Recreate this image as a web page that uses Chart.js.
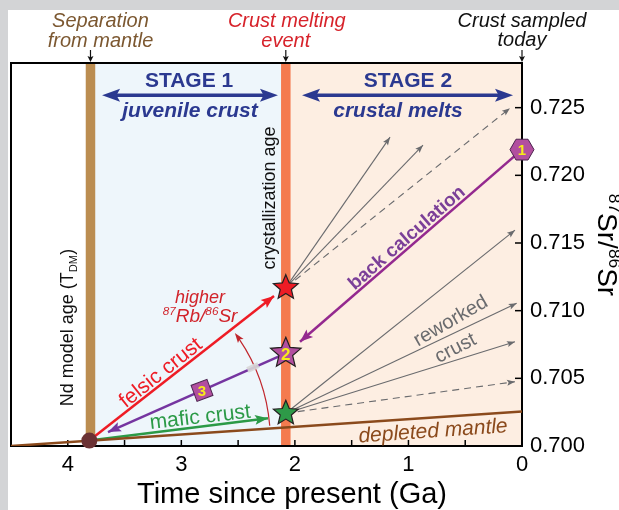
<!DOCTYPE html>
<html>
<head>
<meta charset="utf-8">
<script src="https://cdn.jsdelivr.net/npm/chart.js@4.4.0/dist/chart.umd.min.js"></script>
<style>
  html, body { margin: 0; padding: 0; background: #fff; }
  canvas { display: block; }
</style>
</head>
<body>
<canvas id="srChart" width="619" height="510"></canvas>
<script>
// axis ticks
var timeTicks = [0, 1, 2, 3, 4];
var timeMinorTicks = [0.5, 1, 1.5, 2, 2.5, 3, 3.5, 4];
var srTicks = [0.700, 0.705, 0.710, 0.715, 0.720, 0.725];

// events (Ga)
var mantleAge = 3.80;   // separation from mantle, Nd model age
var meltAge = 2.08;     // crust melting event

// evolution lines [Ga, 87Sr/86Sr]
var depletedMantle = [[4.5, 0.7000], [0, 0.70255]];
var felsicCrust = [[3.81, 0.7004], [2.184, 0.71108]];
var maficCrust = [[3.81, 0.7004], [2.237, 0.70205]];
var juvenileBack = [[2.08, 0.70685], [3.646, 0.70103]];
var backCalc = [[0, 0.7219], [1.955, 0.7077]];

// markers
var startDot = [3.81, 0.7004];
var felsicStar = [2.08, 0.7117];
var mixStar = [2.08, 0.70685];
var maficStar = [2.08, 0.70242];
var todaySample = [0, 0.7219];
var boxThree = [2.818, 0.70411];
var lineBreak = [2.369, 0.70580];

// reworked crust fans
var felsicFan = [[1.162, 0.72282], [0.872, 0.72223]];
var felsicFanDashed = [0.106, 0.72496];
var maficFan = [[0.062, 0.71595], [0.047, 0.71054], [0.062, 0.7077]];
var maficFanDashed = [0.062, 0.70475];

var FONT = "'Liberation Sans', Arial, Helvetica, sans-serif";
var GRAY = '#6a6b6e';
var NAVY = '#2b3990';
var PURPLE = '#b24f9f';

function pts(arr) {
  return arr.map(function (p) { return { x: p[0], y: p[1] }; });
}

var datasets = [];
function addLine(data, color, width, dash, head) {
  datasets.push({
    data: pts(data), showLine: true, borderColor: color, borderWidth: width,
    borderDash: dash || [], pointRadius: 0, fill: false, tension: 0, head: head
  });
}

var bigHead = { len: 13, half: 5 };
var smallHead = { len: 8, half: 3 };

felsicFan.forEach(function (e) { addLine([felsicStar, e], GRAY, 1.1, null, smallHead); });
addLine([felsicStar, felsicFanDashed], GRAY, 1.1, [7, 5], smallHead);
maficFan.forEach(function (e) { addLine([maficStar, e], GRAY, 1.1, null, smallHead); });
addLine([maficStar, maficFanDashed], GRAY, 1.1, [7, 5], smallHead);
addLine(depletedMantle, '#8b4a1c', 2.5, null, null);
addLine(felsicCrust, '#ee1c25', 2.5, null, bigHead);
addLine(maficCrust, '#2b9a47', 2.5, null, bigHead);
addLine(juvenileBack, '#7535a0', 2.5, null, bigHead);
addLine(backCalc, '#94298f', 2.5, null, bigHead);

function head(c, x, y, ang, len, half, color) {
  c.save();
  c.translate(x, y);
  c.rotate(ang);
  c.beginPath();
  c.moveTo(0, 0);
  c.lineTo(-len, -half);
  c.lineTo(-len * 0.8, 0);
  c.lineTo(-len, half);
  c.closePath();
  c.fillStyle = color;
  c.fill();
  c.restore();
}

function rich(c, parts, x, y, size, style, color, rot, mid) {
  c.save();
  c.translate(x, y);
  c.rotate((rot || 0) * Math.PI / 180);
  c.fillStyle = color;
  c.textAlign = 'left';
  c.textBaseline = 'alphabetic';
  var widths = parts.map(function (p) {
    c.font = style + ' ' + (p[1] ? size * 0.62 : size) + 'px ' + FONT;
    return c.measureText(p[0]).width;
  });
  var total = widths.reduce(function (s, w) { return s + w; }, 0);
  var cx = -total / 2;
  var base = mid ? size * 0.35 : 0;
  parts.forEach(function (p, i) {
    c.font = style + ' ' + (p[1] ? size * 0.62 : size) + 'px ' + FONT;
    var dy = p[1] === 1 ? -size * 0.38 : (p[1] === -1 ? size * 0.2 : 0);
    c.fillText(p[0], cx, base + dy);
    cx += widths[i];
  });
  c.restore();
}

function star(c, x, y, R, fill) {
  c.beginPath();
  for (var i = 0; i < 10; i++) {
    var a = -Math.PI / 2 + i * Math.PI / 5;
    var r = i % 2 ? R * 0.45 : R;
    c.lineTo(x + r * Math.cos(a), y + r * Math.sin(a));
  }
  c.closePath();
  c.fillStyle = fill;
  c.fill();
  c.lineWidth = 1.2;
  c.strokeStyle = '#231f20';
  c.stroke();
}

function digit(c, t, x, y, size) {
  c.font = 'bold ' + size + 'px ' + FONT;
  c.fillStyle = '#f7ec1a';
  c.textAlign = 'center';
  c.textBaseline = 'middle';
  c.fillText(t, x, y + 1);
}

function dblArrow(c, x1, x2, y) {
  c.strokeStyle = NAVY;
  c.lineWidth = 3.5;
  c.beginPath();
  c.moveTo(x1 + 10, y);
  c.lineTo(x2 - 10, y);
  c.stroke();
  head(c, x2, y, 0, 18, 6.5, NAVY);
  head(c, x1, y, Math.PI, 18, 6.5, NAVY);
}

var sketch = {
  id: 'sketch',
  beforeDraw: function (chart) {
    var c = chart.ctx, a = chart.chartArea, xs = chart.scales.x;
    c.save();
    c.fillStyle = '#d3d4d6';
    c.fillRect(0, 0, chart.width, chart.height);
    c.fillStyle = '#ffffff';
    c.fillRect(8, 10, chart.width - 8, chart.height - 10);
    var xm = xs.getPixelForValue(mantleAge), xc = xs.getPixelForValue(meltAge);
    var h = a.bottom - a.top;
    c.fillStyle = '#eef6fb';
    c.fillRect(xm, a.top, xc - xm, h);
    c.fillStyle = '#fdeee2';
    c.fillRect(xc, a.top, a.right - xc, h);
    c.fillStyle = '#bb8d51';
    c.fillRect(xm - 4.75, a.top, 9.5, h);
    c.fillStyle = '#f47b4f';
    c.fillRect(xc - 4.75, a.top, 9.5, h);
    c.restore();
  },
  beforeDatasetsDraw: function (chart) {
    var c = chart.ctx, a = chart.chartArea, xs = chart.scales.x, ys = chart.scales.y;
    c.save();
    c.strokeStyle = '#000';
    c.lineWidth = 2;
    c.strokeRect(a.left, a.top, a.right - a.left, a.bottom - a.top);
    c.lineWidth = 1.5;
    srTicks.forEach(function (v) {
      var y = ys.getPixelForValue(v);
      c.beginPath(); c.moveTo(a.right - 7, y); c.lineTo(a.right, y); c.stroke();
    });
    timeMinorTicks.forEach(function (v) {
      var x = xs.getPixelForValue(v);
      c.beginPath(); c.moveTo(x, a.bottom); c.lineTo(x, a.bottom - 6); c.stroke();
    });

    // event labels above the frame
    var xm = xs.getPixelForValue(mantleAge), xc = xs.getPixelForValue(meltAge), x0 = xs.getPixelForValue(0);
    rich(c, [['Separation']], xm + 10, 27, 20, 'italic', '#7c5831', 0, false);
    rich(c, [['from mantle']], xm + 10, 47, 20, 'italic', '#7c5831', 0, false);
    rich(c, [['Crust melting']], xc + 1, 27, 20, 'italic', '#d7232b', 0, false);
    rich(c, [['event']], xc, 47, 20, 'italic', '#d7232b', 0, false);
    rich(c, [['Crust sampled']], x0, 27, 20, 'italic', '#111', 0, false);
    rich(c, [['today']], x0, 46, 20, 'italic', '#111', 0, false);
    c.lineWidth = 1.2;
    c.strokeStyle = '#111';
    [xm, xc, x0].forEach(function (x) {
      c.beginPath(); c.moveTo(x, 50); c.lineTo(x, 58); c.stroke();
      head(c, x, 62, Math.PI / 2, 6, 3, '#111');
    });

    // axis titles
    rich(c, [['Time since present (Ga)']], 292, 503, 29, 'normal', '#000', 0, false);
    rich(c, [['87', 1], ['Sr/'], ['86', 1], ['Sr']], 598, 245, 28, 'normal', '#000', 90, false);
    c.restore();
  },
  afterDatasetsDraw: function (chart) {
    var c = chart.ctx, xs = chart.scales.x, ys = chart.scales.y;
    function P(p) { return [xs.getPixelForValue(p[0]), ys.getPixelForValue(p[1])]; }
    c.save();

    // arrowheads at the end of lines
    chart.data.datasets.forEach(function (ds, i) {
      if (!ds.head) return;
      var d = chart.getDatasetMeta(i).data;
      var p1 = d[d.length - 2], p2 = d[d.length - 1];
      var ang = Math.atan2(p2.y - p1.y, p2.x - p1.x);
      head(c, p2.x, p2.y, ang, ds.head.len, ds.head.half, ds.borderColor);
    });

    // rotation arc from mafic to felsic
    var o = P(startDot), R = 181;
    var a0 = -4.7 * Math.PI / 180, a1 = -36.5 * Math.PI / 180;
    c.strokeStyle = '#c1272d';
    c.lineWidth = 1.2;
    c.beginPath();
    c.arc(o[0], o[1], R, a0, a1 + 0.04, true);
    c.stroke();
    var tip = [o[0] + R * Math.cos(a1), o[1] + R * Math.sin(a1)];
    head(c, tip[0], tip[1], Math.atan2(-Math.cos(a1), Math.sin(a1)), 10, 3.5, '#c1272d');

    // small break mark on the purple line
    var b = P(lineBreak);
    c.save();
    c.translate(b[0], b[1]);
    c.rotate(-0.42);
    c.fillStyle = 'rgba(215,215,215,0.9)';
    c.fillRect(-6, -3, 12, 6);
    c.restore();

    // markers
    c.fillStyle = '#6b3234';
    c.beginPath();
    c.arc(o[0], o[1], 8, 0, Math.PI * 2);
    c.fill();

    var s = P(felsicStar);
    star(c, s[0], s[1], 13, '#ee1c25');
    s = P(maficStar);
    star(c, s[0], s[1], 13, '#2e9a48');
    s = P(mixStar);
    star(c, s[0], s[1], 16, PURPLE);
    digit(c, '2', s[0], s[1] + 1, 17);

    s = P(todaySample);
    c.beginPath();
    for (var i = 0; i < 6; i++) {
      var ang = i * Math.PI / 3;
      c.lineTo(s[0] + 12 * Math.cos(ang), s[1] + 12 * Math.sin(ang));
    }
    c.closePath();
    c.fillStyle = PURPLE;
    c.fill();
    c.lineWidth = 1;
    c.strokeStyle = '#4d2450';
    c.stroke();
    digit(c, '1', s[0], s[1], 15);

    s = P(boxThree);
    c.save();
    c.translate(s[0], s[1]);
    c.rotate(-0.36);
    c.fillStyle = PURPLE;
    c.fillRect(-8.5, -8.5, 17, 17);
    c.lineWidth = 1;
    c.strokeStyle = '#4d2450';
    c.strokeRect(-8.5, -8.5, 17, 17);
    c.restore();
    digit(c, '3', s[0], s[1], 15);

    // labels inside the plot
    var t;
    t = P([2.835, 0.71056]);
    rich(c, [['higher']], t[0], t[1], 18, 'italic', '#d1232a', 0, false);
    t = P([2.835, 0.70916]);
    rich(c, [['87', 1], ['Rb/'], ['86', 1], ['Sr']], t[0], t[1], 19, 'italic', '#d1232a', 0, false);
    t = P([3.188, 0.70547]);
    rich(c, [['felsic crust']], t[0], t[1], 21, 'normal', '#ee1c25', -38.5, true);
    t = P([2.835, 0.70222]);
    rich(c, [['mafic crust']], t[0], t[1], 21, 'normal', '#2b9a47', -6.5, true);
    t = P([1.021, 0.71544]);
    rich(c, [['back calculation']], t[0], t[1], 19, 'bold', '#7b3f98', -41, true);
    t = P([0.634, 0.70931]);
    rich(c, [['reworked']], t[0], t[1], 20, 'normal', '#6a6b6e', -30, true);
    t = P([0.590, 0.70731]);
    rich(c, [['crust']], t[0], t[1], 20, 'normal', '#6a6b6e', -27, true);
    t = P([0.784, 0.70118]);
    rich(c, [['depleted mantle']], t[0], t[1], 21, 'italic', '#8b4a1c', -4, true);
    t = P([2.175, 0.71832]);
    rich(c, [['crystallization age']], t[0], t[1], 18, 'normal', '#111', -90, false);
    t = P([3.954, 0.70875]);
    rich(c, [['Nd model age (T'], ['DM', -1], [')']], t[0], t[1], 18, 'normal', '#111', -90, false);

    // stage headers
    var yArrow = ys.getPixelForValue(0.72592);
    dblArrow(c, xs.getPixelForValue(3.698), xs.getPixelForValue(2.149), yArrow);
    dblArrow(c, xs.getPixelForValue(1.937), xs.getPixelForValue(0.079), yArrow);
    t = P([2.932, 0.72651]);
    rich(c, [['STAGE 1']], t[0], t[1], 21, 'bold', NAVY, 0, false);
    t = P([1.004, 0.72651]);
    rich(c, [['STAGE 2']], t[0], t[1], 21, 'bold', NAVY, 0, false);
    t = P([2.924, 0.7243]);
    rich(c, [['juvenile crust']], t[0], t[1], 21, 'italic bold', NAVY, 0, false);
    t = P([1.092, 0.7243]);
    rich(c, [['crustal melts']], t[0], t[1], 21, 'italic bold', NAVY, 0, false);
    c.restore();
  }
};

new Chart(document.getElementById('srChart').getContext('2d'), {
  type: 'scatter',
  data: { datasets: datasets },
  options: {
    responsive: false,
    animation: false,
    layout: { padding: { left: 11, top: 63, right: 0, bottom: 0 } },
    plugins: { legend: { display: false }, tooltip: { enabled: false } },
    scales: {
      x: {
        type: 'linear', reverse: true, min: 0, max: 4.5,
        grid: { display: false, drawTicks: false },
        border: { display: true, color: '#000', width: 2 },
        ticks: { font: { family: FONT, size: 22 }, color: '#000', padding: 6,
                 callback: function (v) { return String(v); } },
        afterBuildTicks: function (s) { s.ticks = timeTicks.map(function (v) { return { value: v }; }); },
        afterFit: function (s) { s.height = 64; }
      },
      y: {
        type: 'linear', position: 'right', min: 0.700, max: 0.7283,
        grid: { display: false, drawTicks: false },
        border: { display: true, color: '#000', width: 2 },
        ticks: { font: { family: FONT, size: 22 }, color: '#000', padding: 8,
                 callback: function (v) { return v.toFixed(3); } },
        afterBuildTicks: function (s) { s.ticks = srTicks.map(function (v) { return { value: v }; }); },
        afterFit: function (s) { s.width = 97; }
      }
    }
  },
  plugins: [sketch]
});
</script>
</body>
</html>
